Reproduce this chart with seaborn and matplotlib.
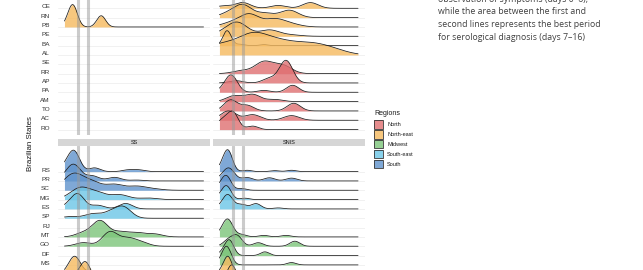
import numpy as np
import matplotlib
matplotlib.use("Agg")
import matplotlib.pyplot as plt
import matplotlib.transforms as mtransforms
from matplotlib.patches import Rectangle
import seaborn as sns

# states from top to bottom of the shared y axis
states = ["RS", "PR", "SC", "MG", "ES", "SP", "RJ", "MT", "GO", "DF", "MS", "MA", "PI",
          "CE", "RN", "PB", "PE", "BA", "AL", "SE", "RR", "AP", "PA", "AM", "TO", "AC", "RO"]
regions = ["North", "North-east", "Midwest", "South-east", "South"]
region_states = {
    "North": ["RR", "AP", "PA", "AM", "TO", "AC", "RO"],
    "North-east": ["MA", "PI", "CE", "RN", "PB", "PE", "BA", "AL", "SE"],
    "Midwest": ["MT", "GO", "DF", "MS"],
    "South-east": ["MG", "ES", "SP", "RJ"],
    "South": ["RS", "PR", "SC"],
}
palette = {"North": "#DF6F71", "North-east": "#F5B95E", "Midwest": "#7CC57A",
           "South-east": "#6CC6E6", "South": "#5F93CC"}
cut_days = [7, 16]

# ridges: state -> (case peak days, peak weights, bandwidth in days, ridge height in rows)
top_left = {
    "PB": ([-1, 3, 28], [0.3, 1.0, 0.6], 4, 2.4),
}
top_right = {
    "CE": ([-2, 16, 48, 77], [0.4, 1.0, 0.5, 1.0], 7, 0.62),
    "RN": ([2, 16, 36, 58], [0.3, 1.0, 0.35, 0.6], 8, 1.43),
    "PB": ([5, 22, 45, 60], [0.3, 1.0, 0.6, 0.2], 9, 1.43),
    "PE": ([0, 12, 40, 60], [0.3, 1.0, 0.5, 0.1], 9, 1.53),
    "BA": ([1, 4, 14, 35], [1.0, 0.5, 0.12, 0.1], 3.5, 1.6),
    "AL": ([-5, 25, 50, 75, 95], [0.5, 1.0, 0.55, 0.45, 0.28], 14, 2.43),
    "RR": ([15, 35, 52], [0.25, 1.0, 0.7], 8, 1.36),
    "AP": ([10, 40, 55], [0.1, 0.2, 1.0], 6, 2.43),
    "PA": ([0, 6, 35, 61], [0.2, 1.0, 0.12, 0.45], 5.5, 1.86),
    "AM": ([8, 25, 45], [0.8, 1.0, 0.3], 7, 0.8),
    "TO": ([5, 20, 62], [1.0, 0.5, 0.7], 6, 1.2),
    "AC": ([3, 25, 60], [1.0, 0.6, 0.5], 7, 1.0),
    "RO": ([-3, 7, 25], [0.5, 1.0, 0.2], 5, 2.0),
}
ss = {
    "RS": ([-3, 4, 22, 52, 62], [0.35, 1.0, 0.2, 0.09, 0.09], 5, 2.3),
    "PR": ([-3, 4, 20, 40, 60], [0.3, 1.0, 0.35, 0.25, 0.06], 6, 1.8),
    "SC": ([-3, 5, 20, 40, 60, 75], [0.4, 1.0, 0.6, 0.45, 0.3, 0.1], 8, 1.85),
    "MG": ([0, 10, 25, 45, 70], [0.2, 1.0, 0.6, 0.45, 0.15], 8, 1.35),
    "ES": ([-2, 7, 25, 50], [0.2, 1.0, 0.25, 0.38], 6, 1.65),
    "SP": ([0, 20, 36, 48], [0.15, 0.4, 0.5, 1.0], 7, 1.32),
    "MT": ([12, 27, 45, 60, 76], [0.25, 1.0, 0.3, 0.25, 0.18], 7, 1.78),
    "GO": ([12, 36, 52, 64], [0.25, 1.0, 0.5, 0.25], 7, 1.6),
    "MA": ([0, 5, 20], [0.3, 1.0, 0.2], 5, 1.93),
    "PI": ([5, 14, 30], [0.3, 1.0, 0.2], 5, 2.36),
}
snis = {
    "RS": ([-2, 3, 20, 45, 60], [0.3, 1.0, 0.07, 0.05, 0.07], 4, 2.35),
    "PR": ([-2, 4, 20, 40, 60], [0.3, 1.0, 0.3, 0.28, 0.25], 5, 1.4),
    "SC": ([-3, 2, 15], [0.5, 1.0, 0.15], 4, 1.6),
    "MG": ([-3, 2, 18], [0.4, 1.0, 0.12], 4, 1.5),
    "ES": ([-2, 3, 15, 28, 48], [0.25, 1.0, 0.35, 0.42, 0.08], 4.5, 1.55),
    "MT": ([-2, 3, 15, 35, 55], [0.3, 1.0, 0.15, 0.1, 0.1], 4.5, 1.93),
    "GO": ([3, 11, 30, 63], [0.6, 1.0, 0.35, 0.5], 4.5, 1.25),
    "DF": ([-2, 4, 36], [0.2, 1.0, 0.25], 4, 1.7),
    "MS": ([-2, 2, 60], [0.3, 1.0, 0.15], 4, 2.0),
    "MA": ([-2, 3, 20], [0.3, 1.0, 0.1], 3.5, 1.93),
    "PI": ([3, 7, 25], [0.4, 1.0, 0.1], 4, 2.0),
}
top_labels = states[13:]
bottom_labels = states[:11]
note_lines = ["observation of symptoms (days 0\u20136),",
              "while the area between the first and",
              "second lines represents the best period",
              "for serological diagnosis (days 7\u201316)"]

sns.set_style("white")
plt.rcParams["font.family"] = ["Liberation Sans", "DejaVu Sans"]

W, H = 643, 270
STEP = 9.33
region_of = {s: r for r, sts in region_states.items() for s in sts}

fig = plt.figure(figsize=(W / 100, H / 100), dpi=100)


def px_axes(x0, y0, x1, y1):
    return fig.add_axes([x0 / W, 1 - y1 / H, (x1 - x0) / W, (y1 - y0) / H])


def draw_ridge(ax, row, days, wts, bw, hgt, color, z):
    days = np.asarray(days, float)
    wts = np.asarray(wts, float)
    sd = np.sqrt(np.cov(days, aweights=wts))
    kw = dict(x=days, weights=wts, bw_method=bw / sd, cut=60, clip=(-5, 120),
              gridsize=400, ax=ax)
    n = len(ax.lines)
    sns.kdeplot(color="#1a1a1a", linewidth=0.55, **kw)
    line = ax.lines[n]
    scale = hgt / line.get_ydata().max()
    tr = mtransforms.Affine2D().scale(1, scale).translate(0, -row) + ax.transData
    line.set_transform(tr)
    line.set_zorder(z + 1)
    m = len(ax.collections)
    sns.kdeplot(fill=True, color=color, alpha=0.8, linewidth=0, **kw)
    for c in ax.collections[m:]:
        c.set_transform(tr)
        c.set_zorder(z)


def make_panel(x0, x1, y0, y1, ref_state, ref_px, ridges, labels):
    ax = px_axes(x0, y0, x1, y1)
    for i in range(len(states)):
        ax.axhline(-i, color="#EBEBEB", lw=0.5, zorder=0)
    k = 0
    for i, st in enumerate(states):
        if st in ridges:
            days, wts, bw, hgt = ridges[st]
            draw_ridge(ax, i, days, wts, bw, hgt, palette[region_of[st]], 1 + 2 * k)
            k += 1
    for d in cut_days:
        ax.axvline(d, color="#999999", alpha=0.5, lw=2.2, zorder=200)
    ax.set_xlabel("")
    ax.set_ylabel("")
    ax.set_xticks([])
    for s in ax.spines.values():
        s.set_visible(False)
    if labels:
        ax.set_yticks([-states.index(s) for s in labels])
        ax.set_yticklabels(labels)
        ax.tick_params(axis="y", length=0, pad=5.4, labelsize=4.6, labelcolor="#333333")
        plt.setp(ax.get_yticklabels(), va="baseline")
    else:
        ax.set_yticks([])
    ref = states.index(ref_state)
    ax.set_xlim(-11.25, 126.25)
    ax.set_ylim(-(ref + (y1 - ref_px) / STEP), -(ref + (y0 - ref_px) / STEP))
    return ax


make_panel(57.5, 210.5, -10, 135, "CE", 8.3, top_left, top_labels)
make_panel(212.5, 365, -10, 135, "CE", 8.3, top_right, None)
make_panel(57.5, 210.5, 146, 280, "RS", 171.6, ss, bottom_labels)
make_panel(212.5, 365, 146, 280, "RS", 171.6, snis, None)

# facet strips
for (x0, x1), name in zip([(57.5, 210.5), (212.5, 365)], ["SS", "SNIS"]):
    st_ax = px_axes(x0, 139, x1, 145.5)
    st_ax.set_facecolor("#D6D6D6")
    st_ax.set_xticks([])
    st_ax.set_yticks([])
    for s in st_ax.spines.values():
        s.set_visible(False)
    st_ax.text(0.5, 0.5, name, ha="center", va="center", fontsize=4, color="#1A1A1A",
               transform=st_ax.transAxes)

# overlay in pixel coordinates for titles, legend and note
ov = fig.add_axes([0, 0, 1, 1])
ov.set_xlim(0, W)
ov.set_ylim(H, 0)
ov.axis("off")

ov.text(30, 144, "Brazilian States", rotation=90, ha="center", va="center",
        fontsize=5.7, color="#1A1A1A")

ov.text(374, 113.5, "Regions", ha="left", va="center", fontsize=5, color="#1A1A1A")
for k, reg in enumerate(regions):
    top = 120 + 9.9 * k
    ov.add_patch(Rectangle((374, top), 9.3, 8.6, facecolor=palette[reg], alpha=0.8,
                           edgecolor="none"))
    ov.add_patch(Rectangle((374, top), 9.3, 8.6, facecolor="none",
                           edgecolor="#333333", lw=0.6))
    ov.text(387, top + 4.4, reg, ha="left", va="center", fontsize=4, color="#1A1A1A")

for k, txt in enumerate(note_lines):
    ov.text(438, 1.5 + 12.85 * k, txt, ha="left", va="baseline", fontsize=6.3,
            color="#404040", family=["Open Sans", "DejaVu Sans"])

fig.savefig("out.png", dpi=100)
